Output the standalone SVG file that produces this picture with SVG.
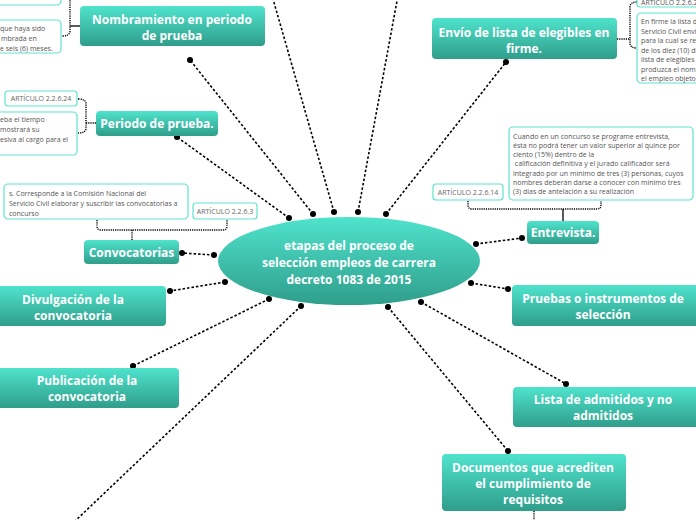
<svg xmlns="http://www.w3.org/2000/svg" width="696" height="520" viewBox="0 0 696 520">
<defs>
<linearGradient id="g" x1="0" y1="0" x2="0" y2="1">
<stop offset="0" stop-color="#4fe3cc"/>
<stop offset="1" stop-color="#2f9e8b"/>
</linearGradient>
<style>
.n{fill:url(#g);}
.t{font-family:"Open Sans","Noto Sans",sans-serif;font-weight:bold;font-size:12px;fill:#fff;text-anchor:middle;}
.b{fill:#fff;stroke:#5fe3cf;stroke-width:1.2;}
.s{font-family:"Open Sans","Noto Sans",sans-serif;font-size:7px;fill:#555;}
.a{font-family:"Open Sans","Noto Sans",sans-serif;font-size:7px;fill:#666;text-anchor:middle;}
.c{stroke:#000;stroke-width:1.6;stroke-dasharray:2.5 2;fill:none;}
.k{stroke:#000;stroke-width:1.4;stroke-dasharray:1.2 1;fill:none;}
.st{stroke:#000;stroke-width:1.3;fill:none;}
.d{fill:#000;}
</style>
</defs>
<rect width="696" height="520" fill="#fff"/>

<g id="connectors">
<line class="c" x1="313" y1="214" x2="190" y2="60"/>
<line class="c" x1="289" y1="218" x2="177" y2="137"/>
<line class="c" x1="334" y1="212" x2="271" y2="-8"/>
<line class="c" x1="358" y1="212" x2="399" y2="-10"/>
<line class="c" x1="386" y1="214" x2="506" y2="62"/>
<line class="c" x1="214" y1="255" x2="182" y2="253"/>
<line class="c" x1="225" y1="282" x2="170" y2="291"/>
<line class="c" x1="269" y1="299" x2="133" y2="366"/>
<line class="c" x1="301" y1="306" x2="73" y2="523"/>
<line class="c" x1="476" y1="244" x2="522" y2="238"/>
<line class="c" x1="471" y1="283" x2="508" y2="289"/>
<line class="c" x1="421" y1="302" x2="566" y2="384"/>
<line class="c" x1="388" y1="307" x2="508" y2="451"/>
<line class="k" x1="534" y1="511" x2="534" y2="522"/>
<g class="d">
<circle cx="313" cy="214" r="3"/><circle cx="190" cy="60" r="3"/>
<circle cx="289" cy="218" r="3"/><circle cx="177" cy="137" r="3"/>
<circle cx="334" cy="212" r="3"/><circle cx="358" cy="212" r="3"/>
<circle cx="386" cy="214" r="3"/><circle cx="506" cy="62" r="3"/>
<circle cx="214" cy="255" r="3"/><circle cx="182" cy="253" r="3"/>
<circle cx="225" cy="282" r="3"/><circle cx="170" cy="291" r="3"/>
<circle cx="269" cy="299" r="3"/><circle cx="133" cy="366" r="3"/>
<circle cx="301" cy="306" r="3"/>
<circle cx="476" cy="244" r="3"/><circle cx="522" cy="238" r="3"/>
<circle cx="471" cy="283" r="3"/><circle cx="508" cy="289" r="3"/>
<circle cx="421" cy="302" r="3"/><circle cx="566" cy="384" r="3"/>
<circle cx="388" cy="307" r="3"/><circle cx="508" cy="451" r="3"/>
</g>
<!-- brackets -->
<path class="k" d="M70 -2 V31 Q70 36 62 36"/>
<line class="st" x1="70" y1="26" x2="80" y2="26"/>
<path class="k" d="M78 99 Q86 99 86 104 V128 Q86 133 78 133"/>
<line class="k" x1="86" y1="123" x2="96" y2="123"/>
<path class="k" d="M97 220 V226 Q97 230 101 230 H223 Q227 230 227 226 V220"/>
<line class="k" x1="132" y1="230" x2="132" y2="240"/>
<path class="k" d="M637 2 Q630 2 630 7 V43 Q630 48 637 48"/>
<line class="k" x1="617" y1="39" x2="630" y2="39"/>
<path class="k" d="M468 201 V205 Q468 209 472 209 H597 Q601 209 601 205 V201"/>
<line class="st" x1="563" y1="209" x2="563" y2="221"/>
</g>

<g id="center">
<ellipse class="n" cx="349" cy="261" rx="131" ry="44"/>
<text class="t" x="349" y="250">etapas del proceso de</text>
<text class="t" x="349" y="267">selección empleos de carrera</text>
<text class="t" x="349" y="284">decreto 1083 de 2015</text>
</g>

<g id="nombramiento">
<rect class="n" x="80" y="6" width="185" height="40" rx="4"/>
<text class="t" x="172" y="23.5">Nombramiento en periodo</text>
<text class="t" x="172" y="39.5">de prueba</text>
</g>
<g id="nombramiento-notes">
<rect class="b" x="-10" y="-20" width="71" height="25" rx="4"/>
<rect class="b" x="-10" y="20" width="71" height="33" rx="4"/>
<text class="s" x="0" y="30.5">que haya sido</text>
<text class="s" x="1" y="40.5">mbrada en</text>
<text class="s" x="0" y="50.5">e seis (6) meses.</text>
</g>

<g id="periodo">
<rect class="n" x="96" y="111" width="122" height="25" rx="4"/>
<text class="t" x="157" y="127.5">Periodo de prueba.</text>
</g>
<g id="periodo-notes">
<rect class="b" x="5" y="91" width="72" height="15" rx="3"/>
<text class="a" x="41" y="101">ARTÍCULO 2.2.6.24</text>
<rect class="b" x="-10" y="112" width="87" height="43" rx="4"/>
<text class="s" x="0" y="121.5">eba el tiempo</text>
<text class="s" x="0" y="131.5">mostrará su</text>
<text class="s" x="0" y="141.5">esiva al cargo para el</text>
</g>

<g id="convocatorias">
<rect class="n" x="84" y="240" width="95" height="24" rx="4"/>
<text class="t" x="131.5" y="256.5">Convocatorias</text>
</g>
<g id="convocatorias-notes">
<rect class="b" x="4" y="184" width="184" height="35" rx="4"/>
<text class="s" x="9" y="195.5">s. Corresponde a la Comisión Nacional del</text>
<text class="s" x="9" y="205.5">Servicio Civil elaborar y suscribir las convocatorias a</text>
<text class="s" x="9" y="215.5">concurso</text>
<rect class="b" x="193" y="203" width="64" height="16" rx="3"/>
<text class="a" x="225" y="213.5">ARTÍCULO 2.2.6.3</text>
</g>

<g id="divulgacion">
<rect class="n" x="-20" y="286" width="186" height="40" rx="4"/>
<text class="t" x="73" y="303.5">Divulgación de la</text>
<text class="t" x="73" y="319.5">convocatoria</text>
</g>

<g id="publicacion">
<rect class="n" x="-5" y="368" width="184" height="40" rx="4"/>
<text class="t" x="87" y="384.5">Publicación de la</text>
<text class="t" x="87" y="400.5">convocatoria</text>
</g>

<g id="envio">
<rect class="n" x="432" y="18" width="185" height="41" rx="4"/>
<text class="t" x="524" y="36.5">Envío de lista de elegibles en</text>
<text class="t" x="524" y="52.5">firme.</text>
</g>
<g id="envio-notes">
<rect class="b" x="637" y="-10" width="70" height="17" rx="3"/>
<text class="s" x="641" y="4.5">ARTÍCULO 2.2.6.2</text>
<rect class="b" x="637" y="13" width="70" height="70" rx="4"/>
<text class="s" x="641" y="24">En firme la lista d</text>
<text class="s" x="641" y="33.5">Servicio Civil envi</text>
<text class="s" x="641" y="43">para la cual se re</text>
<text class="s" x="641" y="52.5">de los diez (10) di</text>
<text class="s" x="641" y="62">lista de elegibles</text>
<text class="s" x="641" y="71.5">produzca el nom</text>
<text class="s" x="641" y="81">el empleo objeto</text>
</g>

<g id="entrevista">
<rect class="n" x="527" y="221" width="72" height="23" rx="4"/>
<text class="t" x="563" y="237">Entrevista.</text>
</g>
<g id="entrevista-notes">
<rect class="b" x="509" y="127" width="184" height="73" rx="4"/>
<text class="s" x="513" y="138.5">Cuando en un concurso se programe entrevista,</text>
<text class="s" x="513" y="147.8">ésta no podrá tener un valor superior al quince por</text>
<text class="s" x="513" y="157.1">ciento (15%) dentro de la</text>
<text class="s" x="513" y="166.4" xml:space="preserve"> calificación definitiva y el jurado calificador será</text>
<text class="s" x="513" y="175.7">integrado por un mínimo de tres (3) personas, cuyos</text>
<text class="s" x="513" y="185">nombres deberán darse a conocer con mínimo tres</text>
<text class="s" x="513" y="194.3">(3) días de antelación a su realización</text>
<rect class="b" x="433" y="184" width="70" height="16" rx="3"/>
<text class="a" x="468" y="194.5">ARTÍCULO 2.2.6.14</text>
</g>

<g id="pruebas">
<rect class="n" x="512" y="285" width="190" height="41" rx="4"/>
<text class="t" x="603" y="302.5">Pruebas o instrumentos de</text>
<text class="t" x="603" y="318.5">selección</text>
</g>

<g id="lista">
<rect class="n" x="513" y="387" width="190" height="40" rx="4"/>
<text class="t" x="603" y="403.5">Lista de admitidos y no</text>
<text class="t" x="603" y="419.5">admitidos</text>
</g>

<g id="documentos">
<rect class="n" x="442" y="454" width="184" height="57" rx="4"/>
<text class="t" x="533" y="471.5">Documentos que acrediten</text>
<text class="t" x="533" y="487.5">el cumplimiento de</text>
<text class="t" x="533" y="503.5">requisitos</text>
</g>
</svg>
